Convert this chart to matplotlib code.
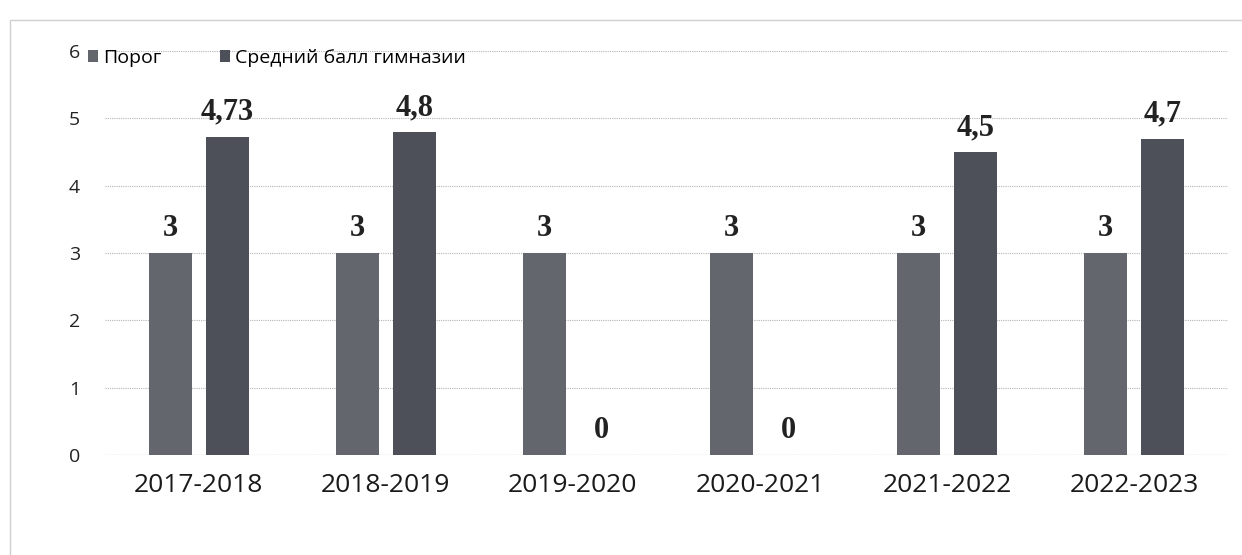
import numpy as np
import matplotlib.pyplot as plt
from matplotlib.patches import Rectangle

# data
years = ['2017-2018', '2018-2019', '2019-2020', '2020-2021', '2021-2022', '2022-2023']
porog = [3, 3, 3, 3, 3, 3]
sredniy = [4.73, 4.8, 0, 0, 4.5, 4.7]
porog_labels = ['3', '3', '3', '3', '3', '3']
sredniy_labels = ['4,73', '4,8', '0', '0', '4,5', '4,7']

fig = plt.figure(figsize=(12.42, 5.55), dpi=100)
ax = fig.add_axes([105 / 1242, 1 - 455 / 555, 1123 / 1242, 404 / 555])

x = np.arange(len(years))
w = 0.23
gap = 0.075
c1 = '#63666d'
c2 = '#4d5058'
b1 = ax.bar(x - (w + gap) / 2, porog, w, color=c1, label='Порог', zorder=3)
b2 = ax.bar(x + (w + gap) / 2, sredniy, w, color=c2, label='Средний балл гимназии', zorder=3)

#value labels above bars
for bars, labels in [(b1, porog_labels), (b2, sredniy_labels)]:
    for rect, txt in zip(bars, labels):
        ax.annotate(txt, (rect.get_x() + rect.get_width() / 2, rect.get_height()),
                    xytext=(0, 7), textcoords='offset points', ha='center', va='bottom',
                    fontsize=22, fontweight='bold', family='Liberation Serif', color='#222222')

ax.set_xlim(-0.5, len(years) - 0.5)
ax.set_ylim(0, 6)
ax.set_yticks(range(0, 7))
ax.set_xticks(x)
ax.set_xticklabels(years, fontsize=19, family='Open Sans', color='#1a1a1a')
for t in ax.get_yticklabels():
    t.set_fontsize(14)
    t.set_family('Open Sans')
    t.set_color('#222222')
ax.tick_params(axis='both', length=0)
ax.tick_params(axis='y', pad=18)
ax.tick_params(axis='x', pad=13)
ax.grid(axis='y', color='#b5b5b5', linestyle=(0, (1, 1)), linewidth=0.8, zorder=0)
for s in ax.spines.values():
    s.set_visible(False)
ax.axhline(0, color='#a0a0a0', linewidth=0.8, linestyle=(0, (2, 1)), zorder=2)

fig.legend(handles=[b1, b2], loc='center left', bbox_to_anchor=(70 / 1242, 1 - 58 / 555),
           ncol=2, frameon=False, handlelength=0.55, handleheight=0.55, handletextpad=0.25,
           columnspacing=3.0, prop={'family': 'Open Sans', 'size': 14})

#faint scan border
fig.patches.append(Rectangle((10 / 1242, -0.1), 1.2, 1 - 20 / 555 + 0.1, transform=fig.transFigure,
                             fill=False, edgecolor='#d0d0d0', linewidth=1))

fig.savefig('out.png', dpi=100, facecolor='white')
